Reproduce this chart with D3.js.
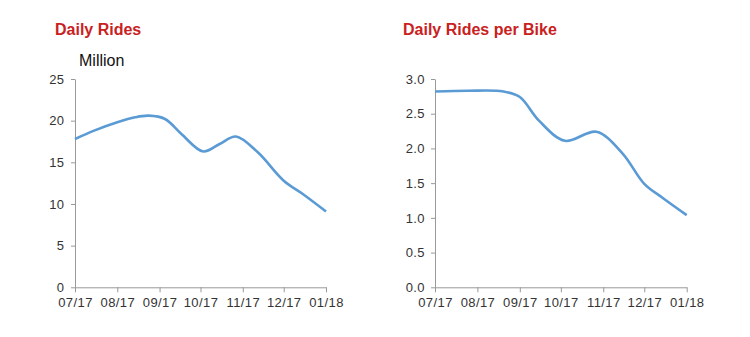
<!DOCTYPE html>
<html><head><meta charset="utf-8">
<script src="https://cdn.jsdelivr.net/npm/d3@7"></script>
<style>
body{margin:0;background:#fff;}
svg{display:block;font-family:"Liberation Sans",Arial,sans-serif;}
.tick text{fill:#333;font-size:13px;letter-spacing:0.4px;}
.domain,.tick line{stroke:#999;}
</style></head>
<body><svg id="c" width="750" height="337"></svg>
<script>
const xTickLabels = ["07/17","08/17","09/17","10/17","11/17","12/17","01/18"];
const xTickDates = ["2017-07-01","2017-08-01","2017-09-01","2017-10-01","2017-11-01","2017-12-01","2018-01-01"];

const ridesDates = ["2017-07-01","2017-07-15","2017-08-01","2017-08-14","2017-08-24","2017-09-05","2017-09-17","2017-10-03","2017-10-15","2017-10-27","2017-11-12","2017-12-01","2017-12-15","2018-01-01"];
const ridesValues = [17.8,18.8,19.8,20.4,20.6,20.2,18.4,16.3,17.2,18.1,16.2,12.8,11.2,9.1];

const perBikeDates = ["2017-07-01","2017-07-25","2017-08-20","2017-09-01","2017-09-15","2017-10-04","2017-10-27","2017-11-15","2017-12-01","2017-12-15","2018-01-01"];
const perBikeValues = [2.82,2.83,2.82,2.74,2.40,2.11,2.24,1.93,1.49,1.28,1.04];

const ridesTicks = [0,5,10,15,20,25];
const perBikeTicks = [0,0.5,1.0,1.5,2.0,2.5,3.0];

const parse = d3.utcParse("%Y-%m-%d");
const svg = d3.select("#c");

function panel(opt){
  const g = svg.append("g");
  const x = d3.scaleUtc().domain([parse(xTickDates[0]), parse(xTickDates[xTickDates.length-1])]).range([opt.x0, opt.x1]);
  const y = d3.scaleLinear().domain([0, opt.ymax]).range([287.3, 79]);
  g.append("g").attr("transform","translate(0,287.3)")
    .call(d3.axisBottom(x).tickValues(xTickDates.map(parse)).tickFormat((d,i)=>xTickLabels[i]).tickSize(5).tickSizeOuter(0).tickPadding(5.5));
  g.append("g").attr("transform",`translate(${opt.x0},0)`)
    .call(d3.axisLeft(y).tickValues(opt.ticks).tickFormat(opt.fmt).tickSize(4).tickSizeOuter(0).tickPadding(opt.ypad));
  const data = opt.dates.map((d,i)=>({d:parse(d), v:opt.values[i]}));
  g.append("path").datum(data)
    .attr("fill","none").attr("stroke","#5b9bd5").attr("stroke-width",2.6)
    .attr("d", d3.line().x(p=>x(p.d)).y(p=>y(p.v)).curve(d3.curveCatmullRom.alpha(0.5)));
  g.append("text").attr("x",opt.tx).attr("y",35).attr("fill","#c9211e")
    .attr("font-size","16px").attr("font-weight","bold").text(opt.title);
  if(opt.unit) g.append("text").attr("x",opt.x0+4).attr("y",66).attr("fill","#111").attr("font-size","16px").text(opt.unit);
}

panel({x0:75, x1:326, ymax:25, ticks:ridesTicks, fmt:d3.format("d"), dates:ridesDates, values:ridesValues, title:"Daily Rides", tx:55, unit:"Million", ypad:6.5});
panel({x0:435, x1:686.7, ymax:3, ticks:perBikeTicks, fmt:d3.format(".1f"), dates:perBikeDates, values:perBikeValues, title:"Daily Rides per Bike", tx:403, ypad:6});
</script></body></html>
